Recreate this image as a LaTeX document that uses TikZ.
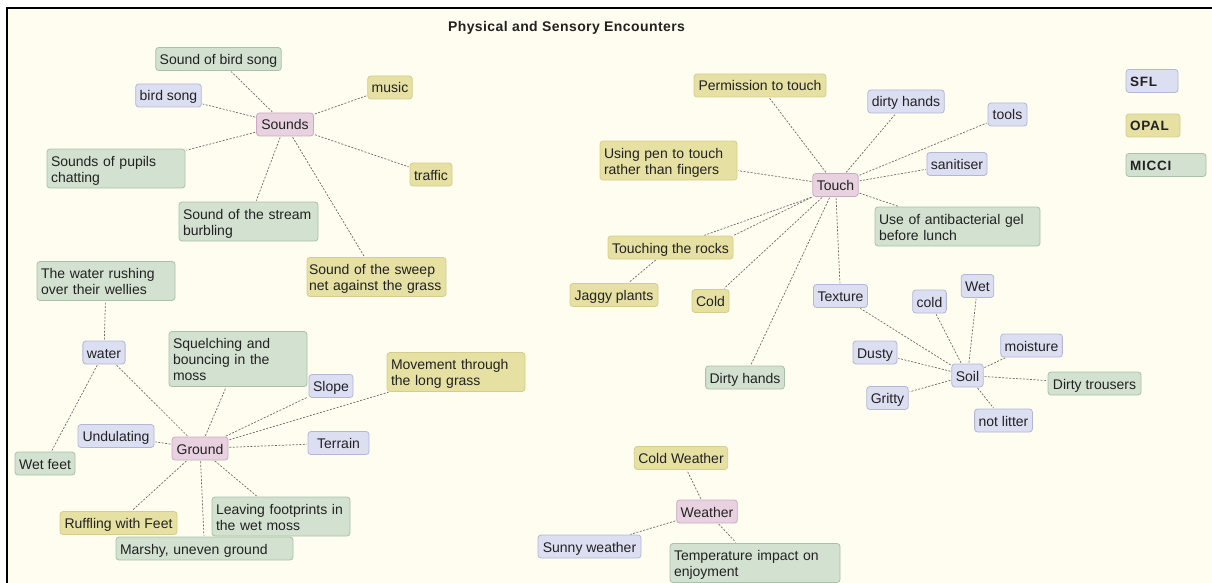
\documentclass[tikz,border=0pt]{standalone}
\usepackage{fontspec}
\setmainfont{Liberation Sans}
\definecolor{paper}{HTML}{FFFDF0}
\definecolor{ink}{HTML}{222222}
\definecolor{linkgray}{HTML}{6A6A6A}
\definecolor{pinkfill}{HTML}{E8D2E0}
\definecolor{pinkline}{HTML}{C9AAC0}
\definecolor{bluefill}{HTML}{DCDEF1}
\definecolor{blueline}{HTML}{B3B7D3}
\definecolor{yellowfill}{HTML}{E6E0A2}
\definecolor{yellowline}{HTML}{D5CD8E}
\definecolor{greenfill}{HTML}{D3E1D0}
\definecolor{greenline}{HTML}{A9C1A8}
\tikzset{
  bubble/.style={draw, rounded corners=3pt, line width=0.8pt, inner xsep=4pt,
    inner ysep=5pt, text height=12pt, text depth=1pt, text=ink,
    font=\fontsize{14}{16}\selectfont},
  wide/.style={align=left, text width=#1},
  two/.style={text depth=17pt},
  three/.style={text depth=33pt},
  pinkbox/.style={bubble, fill=pinkfill, draw=pinkline},
  bluebox/.style={bubble, fill=bluefill, draw=blueline},
  yellowbox/.style={bubble, fill=yellowfill, draw=yellowline},
  greenbox/.style={bubble, fill=greenfill, draw=greenline},
  legend/.style={align=left, text width=#1,
    font=\fontsize{13.5}{15}\selectfont\bfseries\addfontfeatures{LetterSpace=6}},
  link/.style={draw=linkgray, dash pattern=on 2pt off 1.5pt, line width=0.7pt,
    shorten <=1pt, shorten >=1pt}
}
\begin{document}
\begin{tikzpicture}[x=1pt,y=-1pt]
\useasboundingbox (0,0) rectangle (1212,583);
% page and frame
\fill[white] (0,0) rectangle (1212,583);
\fill[paper] (7,8) rectangle (1212,583);
\draw[black, line width=2.2pt] (7,583) -- (7,8) -- (1212,8);

% title
\node[font=\fontsize{14}{16}\selectfont\bfseries\addfontfeatures{LetterSpace=3}, text=ink]
  (title) at (566.5,28) {Physical and Sensory Encounters};

% legend
\node[bluebox, legend=44pt] (sfl) at (1152,81) {SFL};
\node[yellowbox, legend=46pt] (opal) at (1153,125.5) {OPAL};
\node[greenbox, legend=72pt] (micci) at (1166,165) {MICCI};

% Sounds
\node[pinkbox, minimum width=57] (sounds) at (285,124.5) {Sounds};
\node[greenbox, minimum width=125] (sbird) at (218.5,59) {Sound of bird song};
\node[bluebox, minimum width=65] (bird) at (168.5,95.5) {bird song};
\node[yellowbox, minimum width=44] (music) at (390,87.5) {music};
\node[greenbox, wide=130pt, two] (pupils) at (116,168.5) {Sounds of pupils\\chatting};
\node[yellowbox, minimum width=42] (traffic) at (431,174.5) {traffic};
\node[greenbox, wide=131pt, two] (stream) at (248.5,221.5) {Sound of the stream\\burbling};
\node[yellowbox, wide=135pt, inner xsep=2pt, two] (sweep) at (376.5,277) {Sound of the sweep\\net against the grass};

% Ground
\node[greenbox, wide=130pt, two] (rushing) at (106,281) {The water rushing\\over their wellies};
\node[bluebox, minimum width=42] (water) at (104,352.5) {water};
\node[greenbox, wide=130pt, three] (squelch) at (238,359) {Squelching and\\bouncing in the\\moss};
\node[yellowbox, wide=130pt, two] (movement) at (456,372) {Movement through\\the long grass};
\node[bluebox, minimum width=44] (slope) at (331,386) {Slope};
\node[bluebox, minimum width=76] (undul) at (116,436) {Undulating};
\node[pinkbox, minimum width=56] (ground) at (200,448.5) {Ground};
\node[bluebox, minimum width=61] (terrain) at (338.5,443) {Terrain};
\node[greenbox, minimum width=60] (wetfeet) at (45,463.5) {Wet feet};
\node[yellowbox, minimum width=117] (ruffling) at (118.5,523) {Ruffling with Feet};
\node[greenbox, wide=130pt, two] (footprints) at (281,516.5) {Leaving footprints in\\the wet moss};
\node[greenbox, wide=169pt] (marshy) at (204.5,548.5) {Marshy, uneven ground};

% Touch
\node[yellowbox, minimum width=132] (permission) at (760,85.5) {Permission to touch};
\node[bluebox, minimum width=76] (dirtyh) at (906,101.5) {dirty hands};
\node[bluebox, minimum width=39] (tools) at (1007.5,114.5) {tools};
\node[yellowbox, wide=129pt, two] (pen) at (668.5,160.5) {Using pen to touch\\rather than fingers};
\node[pinkbox, minimum width=43] (touch) at (835.5,185) {Touch};
\node[bluebox, minimum width=60] (sanit) at (957,164) {sanitiser};
\node[greenbox, wide=157pt, two] (gel) at (957.5,226.5) {Use of antibacterial gel\\before lunch};
\node[yellowbox, minimum width=125] (rocks) at (670.5,247.5) {Touching the rocks};
\node[yellowbox, minimum width=88] (jaggy) at (614,295) {Jaggy plants};
\node[yellowbox, minimum width=37] (cold) at (710.5,301) {Cold};
\node[bluebox, minimum width=53] (texture) at (840.5,296) {Texture};
\node[greenbox, minimum width=78] (dirtyH) at (745,377.5) {Dirty hands};

% Soil
\node[bluebox, minimum width=33] (scold) at (929.5,301.5) {cold};
\node[bluebox, minimum width=31] (wet) at (977.5,286) {Wet};
\node[bluebox, minimum width=44] (dusty) at (875,352.5) {Dusty};
\node[bluebox, minimum width=61] (moist) at (1031.5,345.5) {moisture};
\node[bluebox, minimum width=31] (soil) at (967.5,375.5) {Soil};
\node[greenbox, minimum width=93] (trousers) at (1094.5,383.5) {Dirty trousers};
\node[bluebox, minimum width=41] (gritty) at (887.5,398) {Gritty};
\node[bluebox, minimum width=57] (litter) at (1003.5,420.5) {not litter};

% Weather
\node[yellowbox, minimum width=92] (coldw) at (681,458) {Cold Weather};
\node[pinkbox, minimum width=60] (weather) at (707,511.5) {Weather};
\node[bluebox, minimum width=103] (sunny) at (589.5,546.5) {Sunny weather};
\node[greenbox, wide=162pt, two] (temp) at (755,563) {Temperature impact on\\enjoyment};

% links
\foreach \n in {sbird,bird,music,pupils,traffic,stream,sweep}
  \draw[link] (sounds) -- (\n);
\foreach \n in {water,squelch,slope,movement,terrain,undul,ruffling,marshy,footprints}
  \draw[link] (ground) -- (\n);
\foreach \n in {rushing,wetfeet}
  \draw[link] (water) -- (\n);
\foreach \n in {permission,dirtyh,tools,pen,sanit,gel,cold,dirtyH,texture}
  \draw[link] (touch) -- (\n);
\draw[link] (touch.south west) -- ([xshift=33pt]rocks.north);
\draw[link] (touch.south west) -- (rocks.north east);
\draw[link] (rocks) -- (jaggy);
\foreach \n in {texture,scold,wet,dusty,moist,trousers,gritty,litter}
  \draw[link] (soil) -- (\n);
\foreach \n in {coldw,sunny,temp}
  \draw[link] (weather) -- (\n);
\end{tikzpicture}
\end{document}
